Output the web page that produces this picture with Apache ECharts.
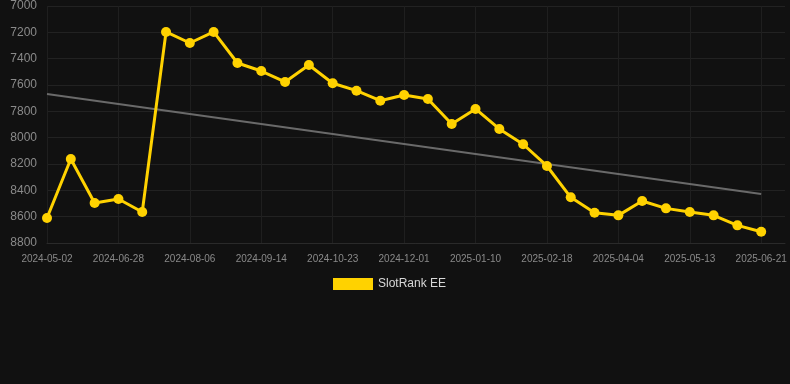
<!DOCTYPE html>
<html>
<head>
<meta charset="utf-8">
<script src="https://cdn.jsdelivr.net/npm/echarts@6/dist/echarts.min.js"></script>
<style>
html,body{margin:0;padding:0;background:#111111;}
#chart{width:790px;height:384px;}
</style>
</head>
<body>
<div id="chart"></div>
<script>
var categories = [
  '2024-05-02','2024-05-21','2024-06-09','2024-06-28','2024-07-11','2024-07-24','2024-08-06',
  '2024-08-19','2024-09-01','2024-09-14','2024-09-27','2024-10-10','2024-10-23',
  '2024-11-05','2024-11-18','2024-12-01','2024-12-14','2024-12-27','2025-01-10',
  '2025-01-23','2025-02-05','2025-02-18','2025-03-05','2025-03-20','2025-04-04',
  '2025-04-17','2025-04-30','2025-05-13','2025-05-26','2025-06-08','2025-06-21',''
];
var rankValues = [
  8610, 8162, 8496, 8466, 8565, 7197, 7281, 7197, 7433, 7494, 7577,
  7448, 7587, 7643, 7719, 7676, 7706, 7896, 7782, 7934, 8050,
  8215, 8453, 8570, 8590, 8481, 8537, 8565, 8590, 8666, 8714, null
];
var trendValues = [7668].concat(new Array(29).fill(null), [8428, null]);
var seriesName = 'SlotRank EE';

var chart = echarts.init(document.getElementById('chart'));
chart.setOption({
  backgroundColor: '#111111',
  animation: false,
  grid: { left: 47, right: 5, top: 6, bottom: 141 },
  legend: {
    data: [seriesName],
    top: 273,
    left: 328,
    itemWidth: 40,
    itemHeight: 12,
    icon: 'rect',
    textStyle: { color: '#d8d8d8', fontSize: 12, fontFamily: 'Arial, Liberation Sans, sans-serif' }
  },
  xAxis: {
    type: 'category',
    data: categories,
    boundaryGap: false,
    axisLine: { show: true, lineStyle: { color: '#2a2a2a' } },
    axisTick: { show: false },
    axisLabel: { interval: 2, color: '#8a8a8a', fontSize: 10, margin: 11, fontFamily: 'Arial, Liberation Sans, sans-serif' },
    splitLine: { show: true, interval: 2, lineStyle: { color: '#1f1f1f', width: 1 } }
  },
  yAxis: {
    type: 'value',
    inverse: true,
    min: 7000,
    max: 8800,
    interval: 200,
    axisLine: { show: false },
    axisTick: { show: false },
    axisLabel: {
      color: '#8a8a8a', fontSize: 12, margin: 10, fontFamily: 'Arial, Liberation Sans, sans-serif',
      formatter: function (v) { return String(v); }
    },
    splitLine: { show: true, lineStyle: { color: '#222222', width: 1 } }
  },
  series: [
    {
      name: seriesName,
      type: 'line',
      data: rankValues,
      color: '#FFD200',
      symbol: 'circle',
      symbolSize: 10,
      lineStyle: { width: 3, color: '#FFD200' },
      itemStyle: { color: '#FFD200' },
      z: 3
    },
    {
      name: 'trend',
      type: 'line',
      data: trendValues,
      connectNulls: true,
      symbol: 'none',
      lineStyle: { width: 2, color: '#6a6a6a' },
      itemStyle: { color: '#6a6a6a' },
      z: 2
    }
  ]
});
</script>
</body>
</html>
